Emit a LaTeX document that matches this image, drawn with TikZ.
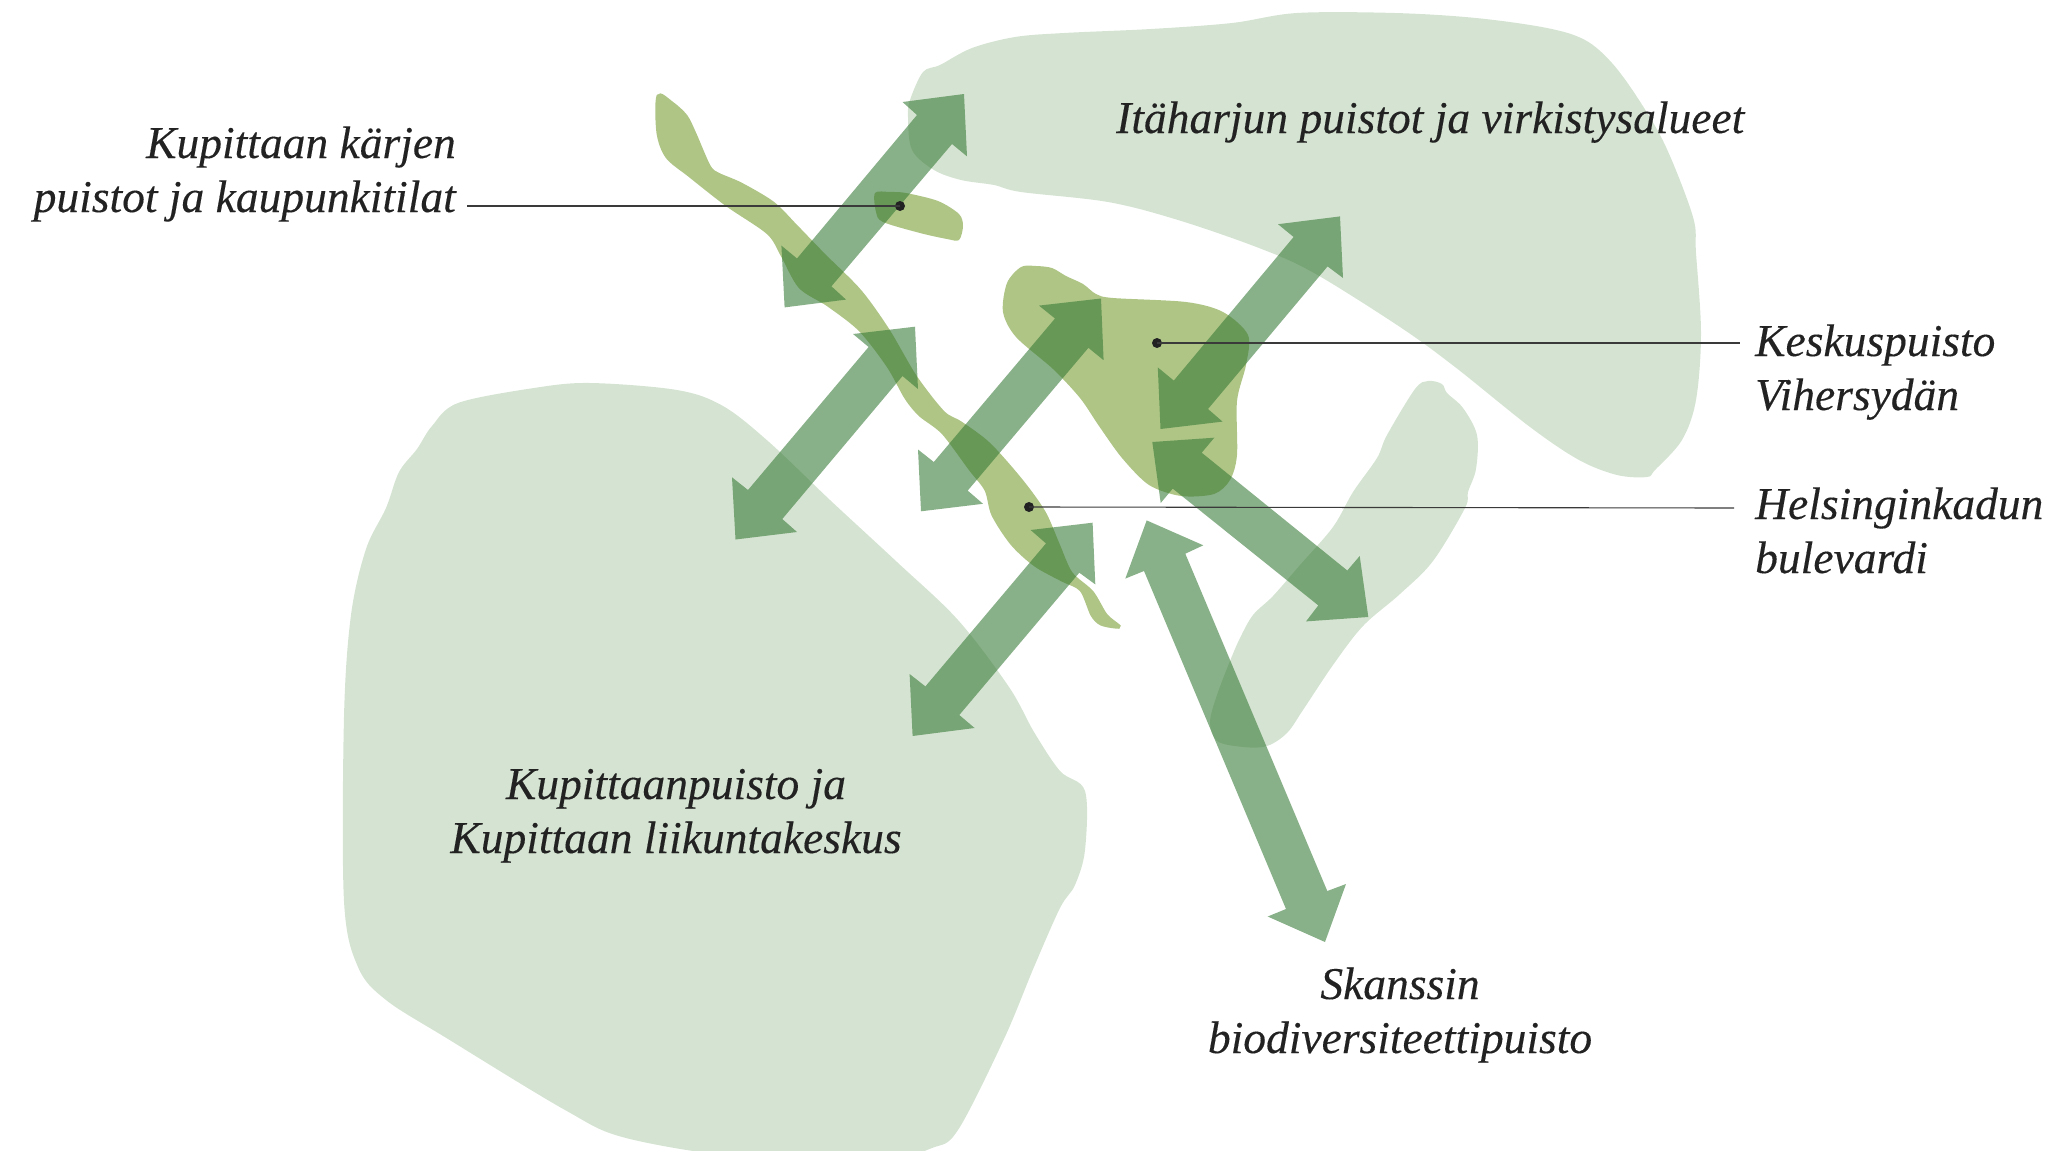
\documentclass[tikz,border=0pt]{standalone}
\usepackage{fontspec}
\setmainfont[ItalicFeatures={FakeBold=0.25}]{Liberation Serif}
\definecolor{pale}{HTML}{D5E4D2}
\definecolor{olive}{HTML}{AEC586}
\definecolor{arrowgreen}{HTML}{347834}
\definecolor{ink}{HTML}{222222}
\definecolor{leadgrey}{HTML}{3A3A3A}
\tikzset{
  parkarea/.style={fill=pale},
  spine/.style={fill=olive},
  spinewide/.style={fill=olive,draw=olive,line width=3pt},
  link/.style={fill=arrowgreen,fill opacity=.58},
  leader/.style={draw=leadgrey,line width=1.1pt},
  dotmark/.style={circle,fill=ink,inner sep=0pt,minimum size=10pt},
  lab/.style={inner sep=0pt,text=ink,font=\fontsize{45.5}{54}\selectfont\itshape}
}
\begin{document}
\begin{tikzpicture}[x=1pt,y=-1pt]
\useasboundingbox (0,0) rectangle (2051,1151);
% pale areas
\fill[parkarea] plot[smooth cycle,tension=.55] coordinates {(432,426)(458,403)(534,388)(590,383)(677,390)(723,406)(769,442)(830,500)(897,562)(958,620)(1009,687)(1034,732)(1060,771)(1085,791)(1085,850)(1075,885)(1060,908)(1034,967)(1004,1039)(958,1130)(932,1148)(881,1160)(749,1158)(626,1138)(565,1110)(448,1039)(386,1000)(358,967)(344,901)(344,717)(351,615)(366,549)(386,508)(399,472)(417,449)};
\fill[parkarea] plot[smooth cycle,tension=.55] coordinates {(923,72)(940,65)(972,48)(1015,37)(1064,33)(1151,29)(1232,23)(1297,13)(1395,13)(1476,18)(1547,28)(1585,40)(1612,63)(1639,100)(1666,147)(1693,217)(1696,253)(1701,333)(1696,400)(1682,440)(1655,470)(1647,477)(1617,475)(1579,460)(1530,427)(1455,367)(1400,327)(1314,273)(1259,248)(1178,220)(1108,202)(1021,192)(994,185)(961,180)(934,170)(912,150)(908,117)(910,100)};
\fill[parkarea] plot[smooth cycle,tension=.55] coordinates {(1428,381)(1442,384)(1447,393)(1463,408)(1477,435)(1476,469)(1468,492)(1465,508)(1433,561)(1400,594)(1363,626)(1333,665)(1303,710)(1287,733)(1267,746)(1243,747)(1217,741)(1210,722)(1217,695)(1230,661)(1240,638)(1253,615)(1273,596)(1300,565)(1333,527)(1353,492)(1377,458)(1387,435)(1415,389)};
% olive areas
\fill[spinewide] plot[smooth cycle,tension=.5] coordinates {(658,96)(672,103)(686,116)(695,134)(709,166)(718,174)(741,184)(773,203)(796,226)(824,255)(860,291)(888,330)(915,376)(943,412)(961,423)(989,444)(1021,480)(1044,512)(1058,544)(1071,573)(1092,592)(1106,615)(1119,626)(1115,627)(1101,624)(1092,615)(1081,590)(1062,580)(1035,565)(1012,544)(993,515)(986,490)(970,469)(943,433)(920,415)(906,398)(888,366)(860,330)(828,305)(800,287)(782,255)(768,233)(727,205)(690,176)(667,157)(658,133)};
\fill[spine] plot[smooth cycle,tension=.5] coordinates {(875,193)(890,192)(906,193)(938,201)(959,214)(963,226)(959,240)(947,239)(920,233)(883,222)(876,212)};
\fill[spine] plot[smooth cycle,tension=.5] coordinates {(1021,267)(1036,266)(1052,268)(1066,276)(1083,284)(1096,294)(1113,298)(1186,302)(1223,312)(1248,335)(1246,365)(1237,401)(1237,455)(1230,480)(1214,494)(1181,496)(1149,485)(1122,458)(1099,426)(1080,398)(1053,369)(1016,337)(1003,312)(1007,283)};
% double arrows
\fill[link] (902.5,102)--(964,94)--(967,156.4)--(952,144)--(831.4,286.3)--(846,299.6)--(784.6,307.4)--(781.4,245.6)--(797,258.5)--(917,115)--cycle;
\fill[link] (853,334)--(915,326.7)--(918,389)--(902.5,376)--(782.3,519)--(797,532)--(735.5,539.5)--(732,477.3)--(748,490)--(868.6,347)--cycle;
\fill[link] (1039,305.6)--(1101,298.5)--(1103.6,360.2)--(1088.4,347.8)--(967.7,490.6)--(983,503.8)--(921,511.3)--(918,449.5)--(933.8,462)--(1055,318.5)--cycle;
\fill[link] (1278,224.2)--(1340,216.4)--(1343,278)--(1327.6,266.4)--(1208,409)--(1222.5,421.6)--(1160.5,429)--(1157.8,367.4)--(1173.8,380.6)--(1293.6,237)--cycle;
\fill[link] (1030.6,530)--(1092.6,522.7)--(1095.3,584.4)--(1079.3,572.7)--(959.3,715)--(974.6,728)--(912.6,736)--(909.6,674)--(925.4,686.4)--(1046,543.4)--cycle;
\fill[link] (1146.7,520.4)--(1203.3,545.3)--(1185.3,553.7)--(1327.3,891)--(1346,884)--(1325,942)--(1267.7,916.5)--(1286,909)--(1144,571)--(1125.3,578.6)--cycle;
\fill[link] (1152.3,442)--(1214.3,437.7)--(1201.7,452.7)--(1347.3,570.5)--(1359.7,556)--(1368.3,617)--(1306,621.4)--(1318.3,605.4)--(1172.7,488.6)--(1160.7,503)--cycle;
% leaders
\node[dotmark] (d1) at (900,206) {};
\node[dotmark] (d2) at (1157,343) {};
\node[dotmark] (d3) at (1029,507) {};
\coordinate (e1) at (467,206);
\coordinate (e2) at (1740,343);
\coordinate (e3) at (1734,508);
\draw[leader] (d1.center) -- (e1);
\draw[leader] (d2.center) -- (e2);
\draw[leader] (d3.center) -- (e3);
% labels
\node[lab,anchor=base east,align=right] (l1) at (456,212) {Kupittaan kärjen\\puistot ja kaupunkitilat};
\node[lab,anchor=base west] (l2) at (1116,133) {Itäharjun puistot ja virkistysalueet};
\node[lab,anchor=base west,align=left] (l3) at (1755,410) {Keskuspuisto\\Vihersydän};
\node[lab,anchor=base west,align=left] (l4) at (1755,573) {Helsinginkadun\\bulevardi};
\node[lab,anchor=base,align=center] (l5) at (676,853) {Kupittaanpuisto ja\\Kupittaan liikuntakeskus};
\node[lab,anchor=base,align=center] (l6) at (1400,1053) {Skanssin\\biodiversiteettipuisto};
\end{tikzpicture}
\end{document}
